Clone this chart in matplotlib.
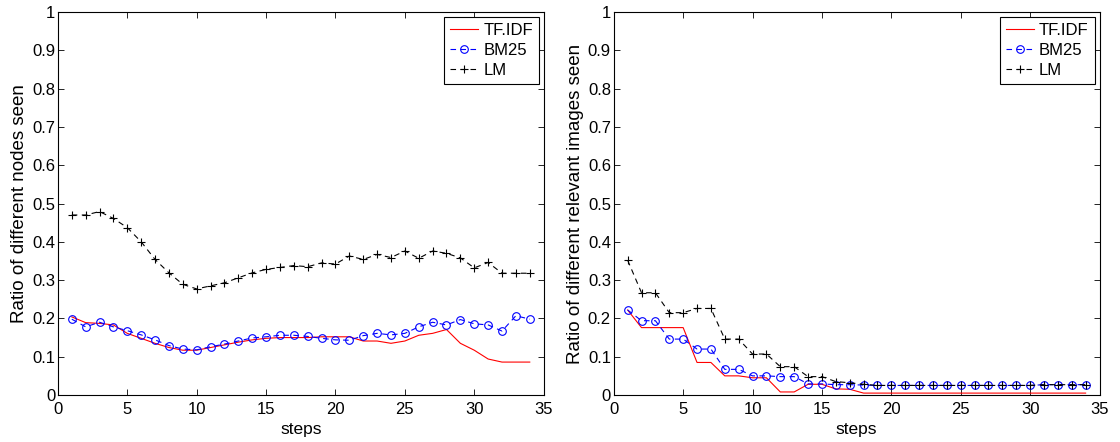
import numpy as np
import matplotlib
matplotlib.use("Agg")
from matplotlib import pyplot as plt

plt.rcParams['font.family'] = ['Liberation Sans', 'DejaVu Sans']
plt.rcParams['font.size'] = 12

steps = np.arange(1, 35)

# left panel: ratio of different nodes seen
left_tfidf = [0.204, 0.189, 0.187, 0.183, 0.161, 0.148, 0.135, 0.124, 0.117, 0.117,
              0.124, 0.131, 0.138, 0.144, 0.148, 0.150, 0.150, 0.150, 0.152, 0.152,
              0.152, 0.141, 0.141, 0.135, 0.141, 0.156, 0.161, 0.171, 0.135, 0.117,
              0.094, 0.086, 0.086, 0.086]
left_bm25 = [0.198, 0.178, 0.190, 0.178, 0.168, 0.157, 0.144, 0.129, 0.120, 0.118,
             0.126, 0.133, 0.141, 0.149, 0.152, 0.156, 0.156, 0.153, 0.148, 0.144,
             0.143, 0.155, 0.161, 0.157, 0.161, 0.178, 0.190, 0.183, 0.197, 0.186,
             0.183, 0.167, 0.207, 0.198]
left_lm = [0.470, 0.470, 0.479, 0.461, 0.437, 0.400, 0.354, 0.319, 0.289, 0.277,
           0.285, 0.293, 0.306, 0.319, 0.328, 0.333, 0.338, 0.335, 0.345, 0.342,
           0.363, 0.354, 0.367, 0.359, 0.376, 0.357, 0.376, 0.370, 0.358, 0.332,
           0.346, 0.318, 0.318, 0.318]

# right panel: ratio of different relevant images seen
right_tfidf = [0.222, 0.176, 0.176, 0.176, 0.176, 0.085, 0.085, 0.050, 0.050, 0.045,
               0.045, 0.008, 0.008, 0.028, 0.028, 0.016, 0.015] + [0.005] * 17
right_bm25 = [0.222, 0.194, 0.194, 0.146, 0.146, 0.120, 0.120, 0.067, 0.067, 0.050,
              0.050, 0.048, 0.048, 0.029, 0.029, 0.027, 0.027, 0.026] + [0.025] * 12 + [0.027] * 4
right_lm = [0.352, 0.267, 0.267, 0.215, 0.215, 0.226, 0.226, 0.146, 0.146, 0.107,
            0.107, 0.074, 0.074, 0.048, 0.048, 0.035, 0.032, 0.028] + [0.025] * 12 + [0.027] * 4

fig = plt.figure(figsize=(11.2, 4.42), dpi=100)
ax1 = fig.add_axes([0.0517, 0.1063, 0.4337, 0.8665])
ax2 = fig.add_axes([0.548, 0.1063, 0.4337, 0.8665])

panels = [(ax1, left_tfidf, left_bm25, left_lm, 'Ratio of different nodes seen'),
          (ax2, right_tfidf, right_bm25, right_lm, 'Ratio of different relevant images seen')]

for ax, tf, bm, lm, ylab in panels:
    ax.plot(steps, tf, color='red', lw=0.8, label='TF.IDF')
    ax.plot(steps, bm, color='blue', lw=0.8, dashes=(5, 4), marker='o', ms=5.5,
            mfc='none', mec='blue', mew=0.8, label='BM25')
    ax.plot(steps, lm, color='black', lw=0.8, dashes=(5, 4), marker='+', ms=6,
            mew=0.8, label='LM')
    ax.set_xlim(0, 35)
    ax.set_ylim(0, 1)
    ax.set_xticks(np.arange(0, 36, 5))
    ax.set_yticks(np.arange(0, 1.01, 0.1))
    ax.set_yticklabels(['0', '0.1', '0.2', '0.3', '0.4', '0.5', '0.6', '0.7', '0.8', '0.9', '1'])
    ax.tick_params(direction='in', top=True, right=True, length=4, width=0.6)
    ax.tick_params(axis='x', pad=5)
    ax.tick_params(axis='y', pad=2)
    for s in ax.spines.values():
        s.set_linewidth(0.8)
    ax.set_xlabel('steps', fontsize=12.5, labelpad=3.5)
    ax.set_ylabel(ylab, fontsize=13.5, labelpad=3)
    leg = ax.legend(loc='upper right', fancybox=False, edgecolor='black',
                    handlelength=1.7, borderaxespad=0.3, borderpad=0.35,
                    labelspacing=0.3, handletextpad=0.3, framealpha=1)
    leg.get_frame().set_linewidth(0.8)

fig.savefig('out.png', dpi=100)
